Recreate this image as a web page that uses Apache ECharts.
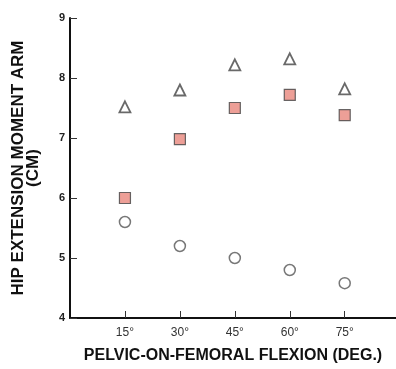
<!DOCTYPE html>
<html>
<head>
<meta charset="utf-8">
<script src="https://cdn.jsdelivr.net/npm/echarts@6/dist/echarts.min.js"></script>
<style>
  html, body { margin: 0; padding: 0; background: #fff; }
  #mainChart { width: 396px; height: 369px; }
</style>
</head>
<body>
<div id="mainChart"></div>
<script>
// flexion angles (deg) and moment arms (cm)
var flexion = [15, 30, 45, 60, 75];
var triangleArm = [7.52, 7.8, 8.22, 8.32, 7.82];
var squareArm = [6.0, 6.98, 7.5, 7.72, 7.38];
var circleArm = [5.6, 5.2, 5.0, 4.8, 4.58];
var yTicks = [4, 5, 6, 7, 8, 9];

function pairs(ys) {
    var out = [];
    for (var i = 0; i < flexion.length; i++) {
        out.push([flexion[i], ys[i]]);
    }
    return out;
}

var myChart = echarts.init(document.getElementById('mainChart'), null, {renderer: 'canvas'});
var boldFont = 'Liberation Sans';

myChart.setOption({
    animation: false,
    grid: {left: 70, right: 0, top: 18, bottom: 51},
    xAxis: {
        type: 'value',
        min: 0,
        max: 89,
        name: 'PELVIC-ON-FEMORAL FLEXION (DEG.)',
        nameLocation: 'middle',
        nameGap: 30,
        nameTextStyle: {fontFamily: boldFont, fontWeight: 'bold', fontSize: 16, color: '#111'},
        splitLine: {show: false},
        axisLine: {lineStyle: {color: '#111', width: 2}},
        axisTick: {inside: true, length: 7, lineStyle: {color: '#333'}, customValues: flexion},
        axisLabel: {
            customValues: flexion,
            formatter: function(v) { return v + '°'; },
            fontFamily: boldFont, fontSize: 12, color: '#333', margin: 9
        }
    },
    yAxis: {
        type: 'value',
        min: 4,
        max: 9,
        interval: 1,
        name: 'HIP EXTENSION MOMENT ARM\n(CM)',
        nameLocation: 'middle',
        nameRotate: 90,
        nameGap: 29,
        nameTextStyle: {fontFamily: boldFont, fontWeight: 'bold', fontSize: 17, color: '#111', lineHeight: 15},
        splitLine: {show: false},
        axisLine: {lineStyle: {color: '#111', width: 2}},
        axisTick: {inside: true, length: 7, lineStyle: {color: '#333'}},
        axisLabel: {
            customValues: yTicks,
            fontFamily: boldFont, fontWeight: 'bold', fontSize: 11, color: '#222', margin: 5
        }
    },
    series: [{
        name: 'triangle',
        type: 'scatter',
        symbol: 'triangle',
        symbolSize: 11,
        data: pairs(triangleArm),
        itemStyle: {color: '#fff', borderColor: '#444', borderWidth: 1.8}
    }, {
        name: 'square',
        type: 'scatter',
        symbol: 'rect',
        symbolSize: 11,
        data: pairs(squareArm),
        itemStyle: {color: '#e8877d', borderColor: '#444', borderWidth: 1.2}
    }, {
        name: 'circle',
        type: 'scatter',
        symbol: 'circle',
        symbolSize: 11,
        data: pairs(circleArm),
        itemStyle: {color: '#fff', borderColor: '#555', borderWidth: 1.5}
    }]
});
</script>
</body>
</html>
